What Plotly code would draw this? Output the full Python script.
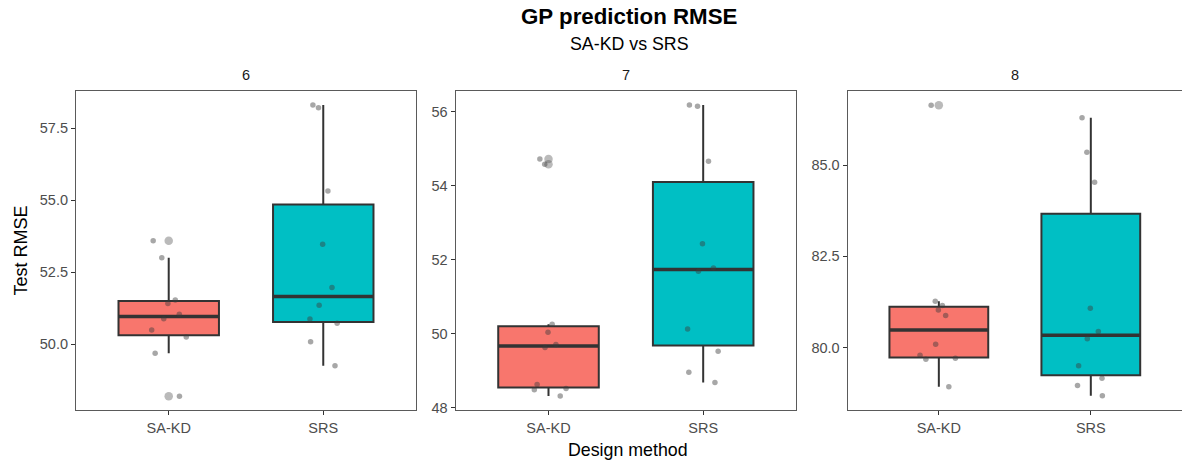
import numpy as np
import plotly.graph_objects as go

# ---- data ----
panels = ["6", "7", "8"]
methods = ["SA-KD", "SRS"]

sakd_6 = [53.59, 53.00, 51.53, 51.41, 51.04, 50.88, 50.49, 50.25, 49.68, 48.19]
srs_6 = [58.31, 58.22, 55.32, 53.47, 51.97, 51.35, 50.87, 50.73, 50.08, 49.25]

sakd_7 = [54.72, 54.58, 50.26, 50.04, 49.71, 49.63, 48.63, 48.52, 48.49, 48.32]
srs_7 = [56.18, 56.15, 54.66, 52.43, 51.78, 51.69, 50.13, 49.53, 48.96, 48.68]

sakd_8 = [86.64, 81.27, 81.15, 81.03, 80.88, 80.09, 79.79, 79.71, 79.68, 78.93]
srs_8 = [86.30, 85.35, 84.53, 81.08, 80.44, 80.24, 79.50, 79.16, 78.96, 78.68]

data = {"6": [sakd_6, srs_6], "7": [sakd_7, srs_7], "8": [sakd_8, srs_8]}

y_ranges = {"6": [47.71, 58.8], "7": [47.94, 56.56], "8": [78.29, 87.03]}
y_dtick = {"6": 2.5, "7": 2, "8": 2.5}
y_fmt = {"6": ".1f", "7": "d", "8": ".1f"}

fills = ["#F8766D", "#00BFC4"]
x_domains = [[0.0, 0.3074], [0.3433, 0.651], [0.6977, 1.0]]

FONT = "Liberation Sans, Arial, sans-serif"
TXT = "#4d4d4d"
BORDER = "#5a5a5a"


def box_stats(vals):
    v = np.asarray(vals, dtype=float)
    q1, med, q3 = np.quantile(v, [0.25, 0.5, 0.75])  # R type 7
    iqr = q3 - q1
    lo, hi = q1 - 1.5 * iqr, q3 + 1.5 * iqr
    inside = v[(v >= lo) & (v <= hi)]
    outl = v[(v < lo) | (v > hi)]
    return q1, med, q3, inside.min(), inside.max(), outl.tolist()


fig = go.Figure()

for i, p in enumerate(panels):
    xa = "x" if i == 0 else f"x{i+1}"
    ya = "y" if i == 0 else f"y{i+1}"
    for j, m in enumerate(methods):
        vals = data[p][j]
        q1, med, q3, lf, uf, outl = box_stats(vals)
        fig.add_trace(go.Box(
            x=[m], q1=[q1], median=[med], q3=[q3], lowerfence=[lf], upperfence=[uf],
            xaxis=xa, yaxis=ya,
            fillcolor=fills[j], line=dict(color="#333333", width=2),
            whiskerwidth=0, width=0.65, boxpoints=False,
            showlegend=False, hoverinfo="y",
        ))
        # thicker median bar (degenerate box at the median)
        fig.add_trace(go.Box(
            x=[m], q1=[med], median=[med], q3=[med], lowerfence=[med], upperfence=[med],
            xaxis=xa, yaxis=ya,
            fillcolor="rgba(0,0,0,0)", line=dict(color="#333333", width=3.5),
            whiskerwidth=0, width=0.65, boxpoints=False,
            showlegend=False, hoverinfo="skip",
        ))
        if outl:
            fig.add_trace(go.Box(
                x=[m] * len(outl), y=outl, xaxis=xa, yaxis=ya,
                fillcolor="rgba(0,0,0,0)", line=dict(color="rgba(0,0,0,0)", width=0),
                whiskerwidth=0, width=0.65,
                boxpoints="all", pointpos=0, jitter=0,
                marker=dict(color="rgba(90,90,90,0.42)", size=8.5, line=dict(width=0)),
                showlegend=False, hoverinfo="y",
            ))
    for j, m in enumerate(methods):
        vals = data[p][j]
        fig.add_trace(go.Box(
            x=[m] * len(vals), y=vals, xaxis=xa, yaxis=ya,
            fillcolor="rgba(0,0,0,0)", line=dict(color="rgba(0,0,0,0)", width=0),
            whiskerwidth=0, width=0.65,
            boxpoints="all", pointpos=0, jitter=0.45,
            marker=dict(color="rgba(60,60,60,0.45)", size=5.5, line=dict(width=0)),
            showlegend=False, hoverinfo="y",
        ))

layout = dict(
    width=1182, height=462,
    margin=dict(l=76, r=0, t=91, b=52),
    paper_bgcolor="white", plot_bgcolor="white",
    font=dict(family=FONT, color=TXT, size=14.5),
    boxmode="overlay",
    showlegend=False,
)

for i, p in enumerate(panels):
    xk = "xaxis" if i == 0 else f"xaxis{i+1}"
    yk = "yaxis" if i == 0 else f"yaxis{i+1}"
    xanchor = "y" if i == 0 else f"y{i+1}"
    yanchor = "x" if i == 0 else f"x{i+1}"
    layout[xk] = dict(
        domain=x_domains[i], anchor=xanchor,
        type="category", categoryorder="array", categoryarray=methods,
        range=[-0.6, 1.6],
        showgrid=False, zeroline=False,
        showline=True, linecolor=BORDER, linewidth=1.2, mirror=True,
        ticks="outside", ticklen=4, tickcolor="#333333", tickwidth=1.2,
        tickfont=dict(size=14.5, color=TXT, family=FONT),
    )
    layout[yk] = dict(
        domain=[0, 1], anchor=yanchor,
        range=y_ranges[p], dtick=y_dtick[p], tick0=0,
        tickformat=y_fmt[p],
        showgrid=False, zeroline=False,
        showline=True, linecolor=BORDER, linewidth=1.2, mirror=(i < 2),
        ticks="outside", ticklen=4, tickcolor="#333333", tickwidth=1.2,
        tickfont=dict(size=14.5, color=TXT, family=FONT),
    )

annotations = [
    dict(text="<b>GP prediction RMSE</b>", x=0.5, y=1.232, xref="paper", yref="paper",
         xanchor="center", yanchor="middle", showarrow=False,
         font=dict(size=22.3, color="black", family=FONT)),
    dict(text="SA-KD vs SRS", x=0.5, y=1.147, xref="paper", yref="paper",
         xanchor="center", yanchor="middle", showarrow=False,
         font=dict(size=17.8, color="black", family=FONT)),
    dict(text="Design method", x=0.4995, y=-0.125, xref="paper", yref="paper",
         xanchor="center", yanchor="middle", showarrow=False,
         font=dict(size=17.8, color="black", family=FONT)),
    dict(text="Test RMSE", x=-0.0506, y=0.5, xref="paper", yref="paper",
         xanchor="center", yanchor="middle", showarrow=False, textangle=-90,
         font=dict(size=18, color="black", family=FONT)),
]
for i, p in enumerate(panels):
    d = x_domains[i]
    annotations.append(dict(
        text=p, x=(d[0] + d[1]) / 2, y=1.05, xref="paper", yref="paper",
        xanchor="center", yanchor="middle", showarrow=False,
        font=dict(size=14.5, color="#1a1a1a", family=FONT)))
layout["annotations"] = annotations

fig.update_layout(**layout)
fig.write_html("out.html", config={"displayModeBar": False},
               post_script="document.body.style.margin='0';")
